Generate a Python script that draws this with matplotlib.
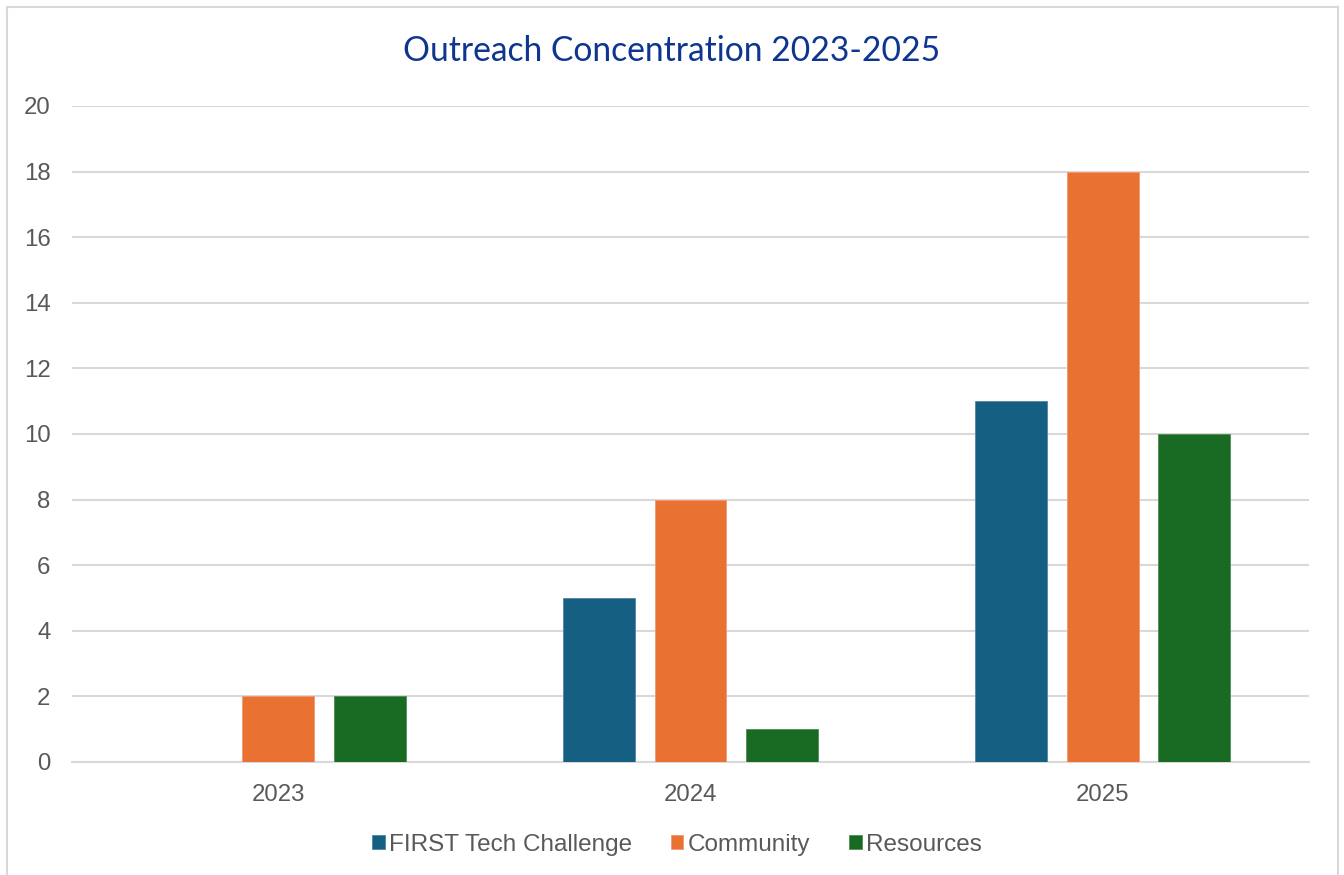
import matplotlib
matplotlib.use("Agg")
import matplotlib.pyplot as plt
import numpy as np
from matplotlib.lines import Line2D

years = ["2023", "2024", "2025"]
series_names = ["FIRST Tech Challenge", "Community", "Resources"]
ftc = [0, 5, 11]
community = [2, 8, 18]
resources = [2, 1, 10]
yticks = [0, 2, 4, 6, 8, 10, 12, 14, 16, 18, 20]

colors = ["#156082", "#E97132", "#196B24"]
edge_colors = ["#4F86A3", "#F29A6E", "#4F8A56"]

fig = plt.figure(figsize=(13.44, 8.75), dpi=100)
ax = fig.add_axes([72/1344, 1 - 762/875, (1309 - 72)/1344, (762 - 106)/875])

x = np.arange(len(years))
width = 0.1746
step = 0.222
for i, (name, vals) in enumerate(zip(series_names, [ftc, community, resources])):
    ax.bar(x + (i - 1) * step, vals, width=width, color=colors[i],
           edgecolor=edge_colors[i], linewidth=0.6, label=name, zorder=3)

ax.set_xlim(-0.5, 2.5)
ax.set_ylim(0, 20)
ax.set_yticks(yticks)
ax.set_xticks(x)
ax.set_xticklabels(years)
ax.yaxis.grid(True, color="#D9D9D9", linewidth=1.5, zorder=0)
ax.set_axisbelow(True)
for s in ["top", "right", "left"]:
    ax.spines[s].set_visible(False)
ax.spines["bottom"].set_color("#D9D9D9")
ax.spines["bottom"].set_linewidth(1.5)
ax.spines["bottom"].set_zorder(1)
ax.tick_params(axis="both", length=0, labelsize=17.3, labelcolor="#595959")
ax.tick_params(axis="y", pad=15.5)
ax.tick_params(axis="x", pad=15.5)
for lab in ax.get_xticklabels() + ax.get_yticklabels():
    lab.set_family("Liberation Sans")

fig.text(0.5, 1 - 51/875, "Outreach Concentration 2023-2025", ha="center", va="center",
         fontsize=24.2, color="#0E3590", family="Lato")

leg = fig.legend(loc="center", bbox_to_anchor=(677/1344, 1 - 845/875), ncol=3, frameon=False,
                 handlelength=0.5, handleheight=0.5, handletextpad=0.17, columnspacing=1.62,
                 prop={"family": "Liberation Sans", "size": 17.5})
for t in leg.get_texts():
    t.set_color("#595959")

# outer chart border
fig.add_artist(Line2D([6.5/1344, 6.5/1344], [0, 1 - 7/875], transform=fig.transFigure,
                      color="#D9D9D9", linewidth=1.5))
fig.add_artist(Line2D([1338/1344, 1338/1344], [0, 1 - 7/875], transform=fig.transFigure,
                      color="#D9D9D9", linewidth=1.5))
fig.add_artist(Line2D([6.5/1344, 1338/1344], [1 - 7/875, 1 - 7/875], transform=fig.transFigure,
                      color="#D9D9D9", linewidth=1.5))

fig.savefig("out.png", dpi=100)
